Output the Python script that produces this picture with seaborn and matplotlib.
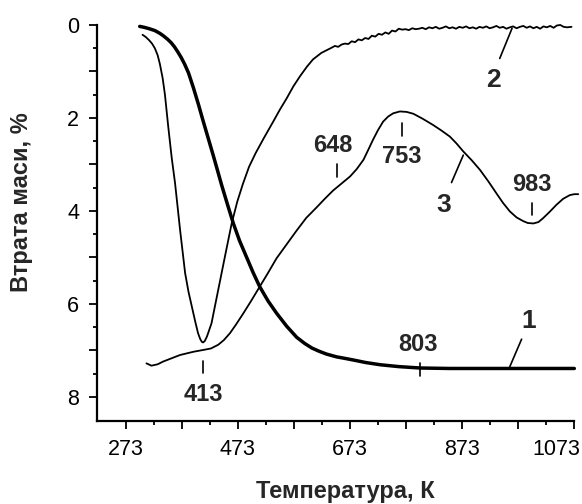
import numpy as np
import pandas as pd
import matplotlib
matplotlib.use("Agg")
import matplotlib.pyplot as plt
import matplotlib.transforms as mtransforms
import seaborn as sns

# ---- data ----
t1 = [298, 306, 315, 325, 334, 341, 348, 354, 360, 366, 372, 378, 385, 394, 403, 411,
      420, 429, 437, 444, 455, 465, 476, 488, 500, 512, 527, 542, 560, 578, 592, 605,
      618, 631, 649, 667, 684, 700, 727, 760, 798, 850, 950, 1073]
v1 = [0.03, 0.05, 0.08, 0.12, 0.18, 0.24, 0.31, 0.38, 0.47, 0.58, 0.70, 0.84, 1.03,
      1.36, 1.72, 2.06, 2.43, 2.80, 3.14, 3.44, 3.88, 4.27, 4.64, 4.98, 5.32, 5.63,
      5.94, 6.20, 6.48, 6.72, 6.85, 6.95, 7.02, 7.08, 7.14, 7.18, 7.22, 7.26, 7.31,
      7.35, 7.38, 7.39, 7.39, 7.39]

t2 = [303, 309, 315, 320, 325, 330, 334, 339, 343, 349, 355, 361, 370, 379, 385, 391,
      397, 402, 406, 409, 411, 414, 418, 426, 438, 450, 462, 472, 482, 493, 505, 520,
      536, 548, 560, 572, 584, 596, 607, 622, 640,
      646, 652, 658, 664, 670, 676, 682, 688, 694, 700, 706, 712, 718, 724, 730,
      736, 742, 748, 754, 760, 766, 772, 778, 784, 790, 796, 802, 808, 814, 820,
      826, 832, 838, 844, 850, 856, 862, 868, 874, 880, 886, 892, 898, 904, 910,
      916, 922, 928, 934, 940, 946, 952, 958, 964, 970, 976, 982, 988, 994, 1000,
      1006, 1012, 1018, 1024, 1030, 1036, 1042, 1048, 1054, 1060, 1068]
v2 = [0.21, 0.26, 0.33, 0.40, 0.50, 0.65, 0.84, 1.15, 1.50, 2.20, 2.85, 3.40, 4.41,
      5.34, 5.74, 6.06, 6.38, 6.63, 6.76, 6.82, 6.83, 6.80, 6.70, 6.42, 5.70, 4.98,
      4.27, 3.80, 3.42, 3.05, 2.75, 2.42, 2.08, 1.82, 1.58, 1.32, 1.10, 0.90, 0.74,
      0.60, 0.49,
      0.45, 0.47, 0.42, 0.40, 0.41, 0.35, 0.37, 0.31, 0.33, 0.28,
      0.30, 0.23, 0.25, 0.19, 0.21, 0.16, 0.19, 0.12, 0.14, 0.08, 0.10, 0.09, 0.11,
      0.07, 0.09, 0.08, 0.06, 0.09, 0.05, 0.07, 0.04, 0.08, 0.06, 0.03, 0.07, 0.05,
      0.08, 0.04, 0.06, 0.03, 0.07, 0.05, 0.08, 0.04, 0.06, 0.03, 0.07, 0.05, 0.02,
      0.06, 0.04, 0.08, 0.05, 0.03, 0.07, 0.04, 0.02, 0.06, 0.03, 0.07, 0.04, 0.08,
      0.03, 0.05, 0.02, 0.06, 0.01, 0.0, 0.04, 0.05, 0.04]

t3 = [310, 319, 330, 340, 355, 370, 394, 412, 425, 438, 448, 459, 470, 483, 497, 512,
      527, 542, 560, 578, 595, 613, 628, 643, 658, 673, 685, 697, 705, 714, 723, 732,
      741, 750, 762, 774, 786, 803, 821, 836, 851, 863, 875, 890, 905, 920, 934, 946,
      958, 970, 982, 990, 1000, 1009, 1017, 1029, 1041, 1053, 1065, 1073, 1080]
v3 = [7.28, 7.33, 7.30, 7.24, 7.17, 7.10, 7.03, 6.99, 6.96, 6.88, 6.78, 6.63, 6.44,
      6.2, 5.93, 5.63, 5.33, 5.02, 4.72, 4.42, 4.15, 3.93, 3.74, 3.56, 3.41, 3.26,
      3.1, 2.9, 2.7, 2.47, 2.26, 2.08, 1.97, 1.90, 1.86, 1.87, 1.91, 2.02, 2.15, 2.27,
      2.40, 2.55, 2.72, 2.91, 3.12, 3.37, 3.62, 3.83, 4.01, 4.14, 4.22, 4.26, 4.27,
      4.24, 4.16, 4.02, 3.87, 3.74, 3.66, 3.64, 3.64]

# peak labels: text, label position, tick mark (x, y0, y1)
peak_text = ["413", "648", "753", "983", "803"]
peak_label_xy = [(411, 7.96), (643, 2.60), (765, 2.82), (997, 3.44), (795, 6.88)]
peak_tick = [(411, 7.23, 7.48), (649, 2.99, 3.27), (765, 2.11, 2.39), (998, 3.84, 4.09),
             (798, 7.27, 7.55)]

# curve number labels: text, label pos, leader line
curve_text = ["1", "2", "3"]
curve_label_xy = [(991, 6.36), (928, 1.18), (840, 3.87)]
curve_leader = [((979, 6.76), (958, 7.35)), ((940, 0.72), (962, 0.07)),
                ((854, 3.39), (875, 2.80))]

xticks_major = list(range(273, 1074, 100))
xticks_labels = [str(t) if (t - 273) % 200 == 0 else "" for t in xticks_major]
yticks_major = list(range(0, 9))
yticks_labels = [str(t) if t % 2 == 0 else "" for t in yticks_major]

# ---- plot ----
sns.set_style("ticks")
plt.rcParams["font.family"] = ["Liberation Sans", "DejaVu Sans"]

fig = plt.figure(figsize=(5.82, 5.04), dpi=100)
ax = fig.add_axes([0.1672, 0.1647, 0.8196, 0.7857])

df1 = pd.DataFrame({"T": t1, "v": v1})
df2 = pd.DataFrame({"T": t2, "v": v2})
df3 = pd.DataFrame({"T": t3, "v": v3})

sns.lineplot(data=df1, x="T", y="v", ax=ax, color="black", linewidth=2.5, sort=False)
sns.lineplot(data=df2, x="T", y="v", ax=ax, color="black", linewidth=1.3, sort=False)
sns.lineplot(data=df3, x="T", y="v", ax=ax, color="black", linewidth=1.3, sort=False)
for ln in ax.lines:
    ln.set_clip_on(False)
    ln.set_solid_joinstyle("round")

ax.set_xlim(222.4, 1073)
ax.set_ylim(8.52, 0)

ax.set_xticks(xticks_major)
ax.set_xticklabels(xticks_labels)
ax.set_xticks(list(range(323, 1074, 100)), minor=True)
ax.set_yticks(yticks_major)
ax.set_yticklabels(yticks_labels)
ax.set_yticks([i + 0.5 for i in range(0, 8)], minor=True)

ax.tick_params(axis="both", which="major", direction="out", length=6, width=1.3,
               labelsize=15.5, color="black", labelcolor="black", pad=7)
ax.tick_params(axis="both", which="minor", direction="out", length=3, width=1.3,
               color="black")

# last x label sits shifted to the left so it fits inside the figure
last = ax.get_xticklabels()[-1]
last.set_horizontalalignment("right")
last.set_transform(last.get_transform() +
                   mtransforms.ScaledTranslation(6 / 100, 0, fig.dpi_scale_trans))

for side in ["top", "right"]:
    ax.spines[side].set_visible(False)
for side in ["left", "bottom"]:
    ax.spines[side].set_linewidth(1.6)
    ax.spines[side].set_color("black")

ax.set_xlabel("Температура, К", fontsize=17, fontweight="bold", va="center")
ax.xaxis.set_label_coords(0.521, -0.179)
ax.set_ylabel("Втрата маси, %", fontsize=17, fontweight="bold", va="center")
ax.yaxis.set_label_coords(-0.158, 0.553)

for txt, (lx, ly), (tx, ty0, ty1) in zip(peak_text, peak_label_xy, peak_tick):
    ax.text(lx, ly, txt, fontsize=17, fontweight="bold", ha="center", va="center")
    ax.plot([tx, tx], [ty0, ty1], color="black", linewidth=1.2)

for txt, (lx, ly), (p0, p1) in zip(curve_text, curve_label_xy, curve_leader):
    ax.text(lx, ly, txt, fontsize=19, fontweight="bold", ha="center", va="center")
    ax.plot([p0[0], p1[0]], [p0[1], p1[1]], color="black", linewidth=1.2)

fig.savefig("out.png", dpi=100)
